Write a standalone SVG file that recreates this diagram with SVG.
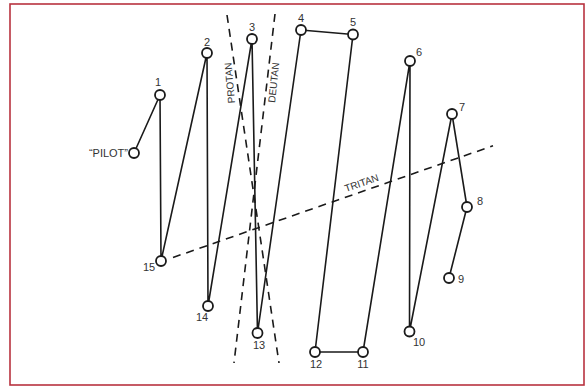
<svg xmlns="http://www.w3.org/2000/svg" width="586" height="387" viewBox="0 0 586 387">
  <style>
    .frame { fill: #ffffff; stroke: #b8323f; stroke-width: 1.6; }
    .edge { fill: none; stroke: #1a1a1a; stroke-width: 1.6; stroke-linejoin: round; }
    .axis { fill: none; stroke: #1a1a1a; stroke-width: 1.6; stroke-dasharray: 8 6; }
    .cap { fill: #ffffff; stroke: #1a1a1a; stroke-width: 1.8; }
    .lbl { font-family: "Liberation Sans", Arial, Helvetica, sans-serif; font-size: 11px; fill: #333333; }
    .axlbl { font-family: "Liberation Sans", Arial, Helvetica, sans-serif; font-size: 10px; fill: #333333; }
  </style>

  <rect class="frame" x="10" y="4" width="574" height="381"/>

  <!-- confusion axes and the cap sequence -->
  <g id="connectors">
    <line class="axis" x1="227" y1="15" x2="279" y2="363"/>
    <line class="axis" x1="275" y1="14" x2="234" y2="363"/>
    <line class="axis" x1="173" y1="257.5" x2="493" y2="145.8"/>
    <polyline class="edge" points="134,153 160,95 161,261 207,53 208,306 252,39 257.5,333 301,30 353,34.5 315,352 363,352 410,61 409.5,331.5 452,114 467,207 449,278"/>
  </g>

  <g id="axis-labels">
    <text class="axlbl" transform="translate(235,103) rotate(-95)">PROTAN</text>
    <text class="axlbl" transform="translate(275,103) rotate(-84)">DEUTAN</text>
    <text class="axlbl" transform="translate(346,192) rotate(-19)">TRITAN</text>
  </g>

  <g id="pilot"><circle class="cap" cx="134" cy="153" r="5"/><text class="lbl" x="128" y="157" text-anchor="end">“PILOT”</text></g>
  <g id="cap1"><circle class="cap" cx="160" cy="95" r="5"/><text class="lbl" x="158" y="86" text-anchor="middle">1</text></g>
  <g id="cap2"><circle class="cap" cx="207" cy="53" r="5"/><text class="lbl" x="207" y="46" text-anchor="middle">2</text></g>
  <g id="cap3"><circle class="cap" cx="252" cy="39" r="5"/><text class="lbl" x="252" y="31" text-anchor="middle">3</text></g>
  <g id="cap4"><circle class="cap" cx="301" cy="30" r="5"/><text class="lbl" x="301" y="22" text-anchor="middle">4</text></g>
  <g id="cap5"><circle class="cap" cx="353" cy="34.5" r="5"/><text class="lbl" x="353" y="26" text-anchor="middle">5</text></g>
  <g id="cap6"><circle class="cap" cx="410" cy="61" r="5"/><text class="lbl" x="419" y="56" text-anchor="middle">6</text></g>
  <g id="cap7"><circle class="cap" cx="452" cy="114" r="5"/><text class="lbl" x="462" y="111" text-anchor="middle">7</text></g>
  <g id="cap8"><circle class="cap" cx="467" cy="207" r="5"/><text class="lbl" x="480" y="205" text-anchor="middle">8</text></g>
  <g id="cap9"><circle class="cap" cx="449" cy="278" r="5"/><text class="lbl" x="461" y="283" text-anchor="middle">9</text></g>
  <g id="cap10"><circle class="cap" cx="409.5" cy="331.5" r="5"/><text class="lbl" x="419" y="346" text-anchor="middle">10</text></g>
  <g id="cap11"><circle class="cap" cx="363" cy="352" r="5"/><text class="lbl" x="363" y="368" text-anchor="middle">11</text></g>
  <g id="cap12"><circle class="cap" cx="315" cy="352" r="5"/><text class="lbl" x="316" y="368" text-anchor="middle">12</text></g>
  <g id="cap13"><circle class="cap" cx="257.5" cy="333" r="5"/><text class="lbl" x="259" y="349" text-anchor="middle">13</text></g>
  <g id="cap14"><circle class="cap" cx="208" cy="306" r="5"/><text class="lbl" x="202" y="321" text-anchor="middle">14</text></g>
  <g id="cap15"><circle class="cap" cx="161" cy="261" r="5"/><text class="lbl" x="149" y="271" text-anchor="middle">15</text></g>
</svg>
